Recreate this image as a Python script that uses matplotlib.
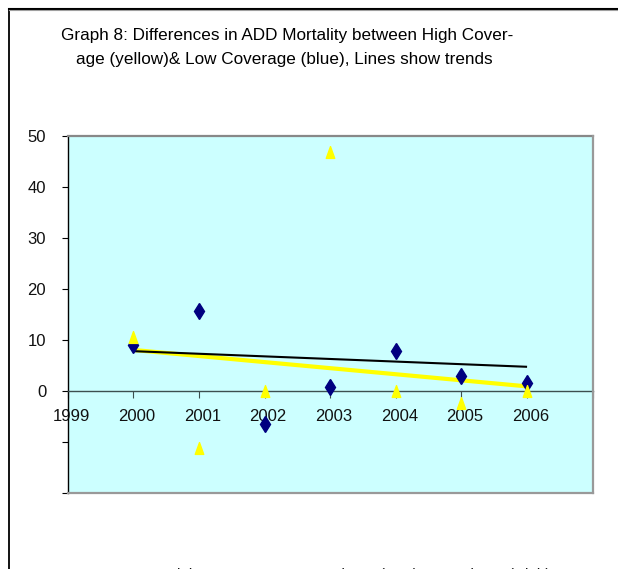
import numpy as np
import matplotlib
matplotlib.use("Agg")
import matplotlib.pyplot as plt
from matplotlib.lines import Line2D
from matplotlib.path import Path
import matplotlib.transforms as mtransforms

plt.rcParams['font.family'] = ['Liberation Sans', 'DejaVu Sans']

# Data
years = [2000, 2001, 2002, 2003, 2004, 2005, 2006]
blue_vals = [9.0, 15.6, -6.5, 0.7, 7.8, 2.9, 1.6]        # low coverage (blue diamonds)
yellow_vals = [10.6, -11.2, 0.0, 46.8, -0.1, -2.4, 0.0]  # high coverage (yellow triangles)

x_ticks = [1999, 2000, 2001, 2002, 2003, 2004, 2005, 2006, 2007]
x_tick_labels = ['1999', '2000', '2001', '2002', '2003', '2004', '2005', '2006', '']
y_ticks = [-20, -10, 0, 10, 20, 30, 40, 50]
y_tick_labels = ['', '', '0', '10', '20', '30', '40', '50']

title_lines = ["Graph 8: Differences in ADD Mortality between High Cover-",
               "age (yellow)& Low Coverage (blue), Lines show trends"]
legend_labels = ["High", "Linear (Low)", "Linear (High)"]

W, H = 618, 569
fig = plt.figure(figsize=(W / 100, H / 100), dpi=100)
fig.patch.set_facecolor('white')

# outer chart frame (left and top edges)
fig.add_artist(Line2D([8.5 / W, 8.5 / W], [0, 1 - 8.5 / H], transform=fig.transFigure,
                      color='black', lw=1.3))
fig.add_artist(Line2D([8.5 / W, 1], [1 - 8.5 / H, 1 - 8.5 / H], transform=fig.transFigure,
                      color='black', lw=1.5))
fig.add_artist(Line2D([8.5 / W, 1], [1 - 10 / H, 1 - 10 / H], transform=fig.transFigure,
                      color='#a0a0a0', lw=0.8))

# title
fig.text(61 / W, 1 - 35.5 / H, title_lines[0], fontsize=12.3, ha='left', va='center', color='black')
fig.text(76 / W, 1 - 59.5 / H, title_lines[1], fontsize=12.3, ha='left', va='center', color='black')

left, right, top, bottom = 67.7, 592.7, 135.5, 493.0
ax = fig.add_axes([left / W, 1 - bottom / H, (right - left) / W, (bottom - top) / H])
ax.set_facecolor('#CCFFFF')
ax.set_xlim(1999, 2007)
ax.set_ylim(-20, 50)

# spines: black left axis, category axis crossing at zero, grey plot-area border
for s in ['top', 'right']:
    ax.spines[s].set_visible(False)
ax.spines['left'].set_color('black')
ax.spines['left'].set_linewidth(1.0)
ax.spines['bottom'].set_position(('data', 0))
ax.spines['bottom'].set_color('#3c4f4f')
ax.spines['bottom'].set_linewidth(1.0)
ax.plot([0, 1], [1, 1], transform=ax.transAxes, color='#888888', lw=1.6, clip_on=False, zorder=5)
ax.plot([1, 1], [0, 1], transform=ax.transAxes, color='#999999', lw=1.6, clip_on=False, zorder=5)
ax.plot([0, 1], [0, 0], transform=ax.transAxes, color='#999999', lw=1.6, clip_on=False, zorder=5)

ax.set_yticks(y_ticks)
ax.set_yticklabels(y_tick_labels)
ax.tick_params(axis='y', direction='out', length=4, width=0.8, color='black',
               labelsize=12, pad=11.5, labelcolor='#111111')

ax.set_xticks(x_ticks)
ax.set_xticklabels(x_tick_labels)
ax.tick_params(axis='x', direction='out', length=5, width=0.8, color='#3c4f4f',
               labelsize=12, pad=8, labelcolor='#111111')
offset = mtransforms.ScaledTranslation(3.5 / 100, 0, fig.dpi_scale_trans)
for lab in ax.get_xticklabels():
    lab.set_transform(lab.get_transform() + offset)

# trend lines
xs = np.array(years, dtype=float)
fit_blue = np.polyfit(xs, blue_vals, 1)
fit_yellow = np.polyfit(xs, yellow_vals, 1)
ends = np.array([years[0], years[-1]], dtype=float)
ax.plot(ends, np.polyval(fit_blue, ends), color='#FFFF00', lw=3.0, solid_capstyle='butt', zorder=3)
ax.plot(ends, np.polyval(fit_yellow, ends), color='black', lw=1.5, solid_capstyle='butt', zorder=4)

# markers
tri = Path([(-0.36, -0.5), (0.36, -0.5), (0.0, 0.5), (-0.36, -0.5)],
           [Path.MOVETO, Path.LINETO, Path.LINETO, Path.CLOSEPOLY])
ax.plot(years, blue_vals, linestyle='none', marker='d', markersize=8.5,
        color='#000080', markeredgecolor='#000080', zorder=6, clip_on=False)
ax.plot(years, yellow_vals, linestyle='none', marker=tri, markersize=8.5,
        color='#FFFF00', markeredgecolor='#FFFF00', zorder=7, clip_on=False)

# legend entries along the bottom edge of the chart
for xpix, txt in zip([167, 333, 462], legend_labels):
    fig.text(xpix / W, 1 - 567.5 / H, txt, fontsize=11, ha='left', va='top', color='#111111')

fig.savefig('out.png', dpi=100)
